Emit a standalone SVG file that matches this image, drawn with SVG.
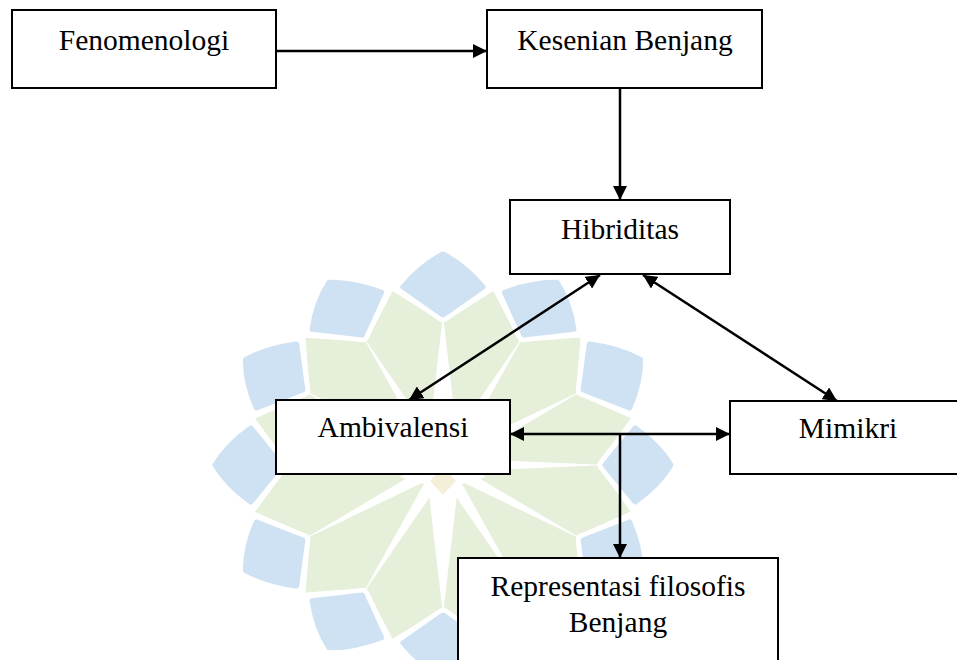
<svg xmlns="http://www.w3.org/2000/svg" xmlns:xlink="http://www.w3.org/1999/xlink" width="957" height="660" viewBox="0 0 957 660">
<style>
.box{fill:#fff;stroke:#000;stroke-width:2}
.lbl{font-family:"Liberation Serif","Times New Roman",serif;font-size:29.5px;fill:#000;text-anchor:middle}
.con{stroke:#000;stroke-width:2.5;fill:none}
.blue{fill:#cfe2f3;stroke:#cfe2f3;stroke-width:5;stroke-linejoin:round}
.bw{fill:#fff;stroke:#fff;stroke-width:14;stroke-linejoin:round}
.green{fill:#e5efd9}
.wh{fill:#fff}
</style>
<defs>
<marker id="ah" viewBox="0 0 14 14" refX="14" refY="7" markerWidth="14" markerHeight="14" markerUnits="userSpaceOnUse" orient="auto-start-reverse">
<path d="M0,0 L14,7 L0,14 Z" fill="#000"/>
</marker>
<path id="blp" d="M150,0 L178,-37 Q200,-20 211,0 Q200,20 178,37 Z"/>
<g id="bl"><use xlink:href="#blp" class="bw"/><use xlink:href="#blp" class="blue"/></g>
<path id="gw" class="green" d="M0,0 L142,0 L174,46.6 L123,71 Z"/>
<path id="ray" class="wh" d="M0,-7 L152,0 L0,7 Z"/>
</defs>
<rect width="957" height="660" fill="#fff"/>
<g id="watermark" transform="translate(443,465) scale(1.08,1)">
<use xlink:href="#gw" transform="rotate(0)"/>
<use xlink:href="#gw" transform="rotate(30)"/>
<use xlink:href="#gw" transform="rotate(60)"/>
<use xlink:href="#gw" transform="rotate(90)"/>
<use xlink:href="#gw" transform="rotate(120)"/>
<use xlink:href="#gw" transform="rotate(150)"/>
<use xlink:href="#gw" transform="rotate(180)"/>
<use xlink:href="#gw" transform="rotate(210)"/>
<use xlink:href="#gw" transform="rotate(240)"/>
<use xlink:href="#gw" transform="rotate(270)"/>
<use xlink:href="#gw" transform="rotate(300)"/>
<use xlink:href="#gw" transform="rotate(330)"/>
<use xlink:href="#ray" transform="rotate(0)"/>
<use xlink:href="#ray" transform="rotate(30)"/>
<use xlink:href="#ray" transform="rotate(60)"/>
<use xlink:href="#ray" transform="rotate(120)"/>
<use xlink:href="#ray" transform="rotate(150)"/>
<use xlink:href="#ray" transform="rotate(180)"/>
<use xlink:href="#ray" transform="rotate(210)"/>
<use xlink:href="#ray" transform="rotate(240)"/>
<use xlink:href="#ray" transform="rotate(300)"/>
<use xlink:href="#ray" transform="rotate(330)"/>
<path class="wh" d="M0,-150 L14,-20 L40,-12 L20,0 L40,12 L14,20 L0,150 L-14,20 L-40,12 L-20,0 L-40,-12 L-14,-20 Z"/>
<path d="M0,2 L12,16 L0,30 L-12,16 Z" fill="#f6efd8"/>
<use xlink:href="#bl" transform="rotate(0)"/>
<use xlink:href="#bl" transform="rotate(30)"/>
<use xlink:href="#bl" transform="rotate(60)"/>
<use xlink:href="#bl" transform="rotate(90)"/>
<use xlink:href="#bl" transform="rotate(120)"/>
<use xlink:href="#bl" transform="rotate(150)"/>
<use xlink:href="#bl" transform="rotate(180)"/>
<use xlink:href="#bl" transform="rotate(210)"/>
<use xlink:href="#bl" transform="rotate(240)"/>
<use xlink:href="#bl" transform="rotate(270)"/>
<use xlink:href="#bl" transform="rotate(300)"/>
<use xlink:href="#bl" transform="rotate(330)"/>
</g>
<g id="connectors">
<line class="con" x1="276" y1="51" x2="487" y2="51" marker-end="url(#ah)"/>
<line class="con" x1="620" y1="88" x2="620" y2="200" marker-end="url(#ah)"/>
<line class="con" x1="600" y1="275" x2="409" y2="400" marker-start="url(#ah)" marker-end="url(#ah)"/>
<line class="con" x1="643" y1="275" x2="837" y2="401" marker-start="url(#ah)" marker-end="url(#ah)"/>
<line class="con" x1="510" y1="434" x2="730" y2="434" marker-start="url(#ah)" marker-end="url(#ah)"/>
<line class="con" x1="620" y1="434" x2="620" y2="558" marker-end="url(#ah)"/>
</g>
<g id="fenomenologi">
<rect class="box" x="12" y="10" width="264" height="78"/>
<text class="lbl" x="144" y="50">Fenomenologi</text>
</g>
<g id="kesenian">
<rect class="box" x="487" y="10" width="275" height="78"/>
<text class="lbl" x="625" y="50">Kesenian Benjang</text>
</g>
<g id="hibriditas">
<rect class="box" x="510" y="200" width="220" height="74"/>
<text class="lbl" x="620" y="239">Hibriditas</text>
</g>
<g id="ambivalensi">
<rect class="box" x="276" y="400" width="234" height="74"/>
<text class="lbl" x="393" y="437">Ambivalensi</text>
</g>
<g id="mimikri">
<rect class="box" x="730" y="401" width="250" height="73"/>
<text class="lbl" x="848" y="438">Mimikri</text>
</g>
<g id="representasi">
<rect class="box" x="458" y="558" width="320" height="120"/>
<text class="lbl" x="618" y="596">Representasi filosofis</text>
<text class="lbl" x="618" y="632">Benjang</text>
</g>
</svg>
